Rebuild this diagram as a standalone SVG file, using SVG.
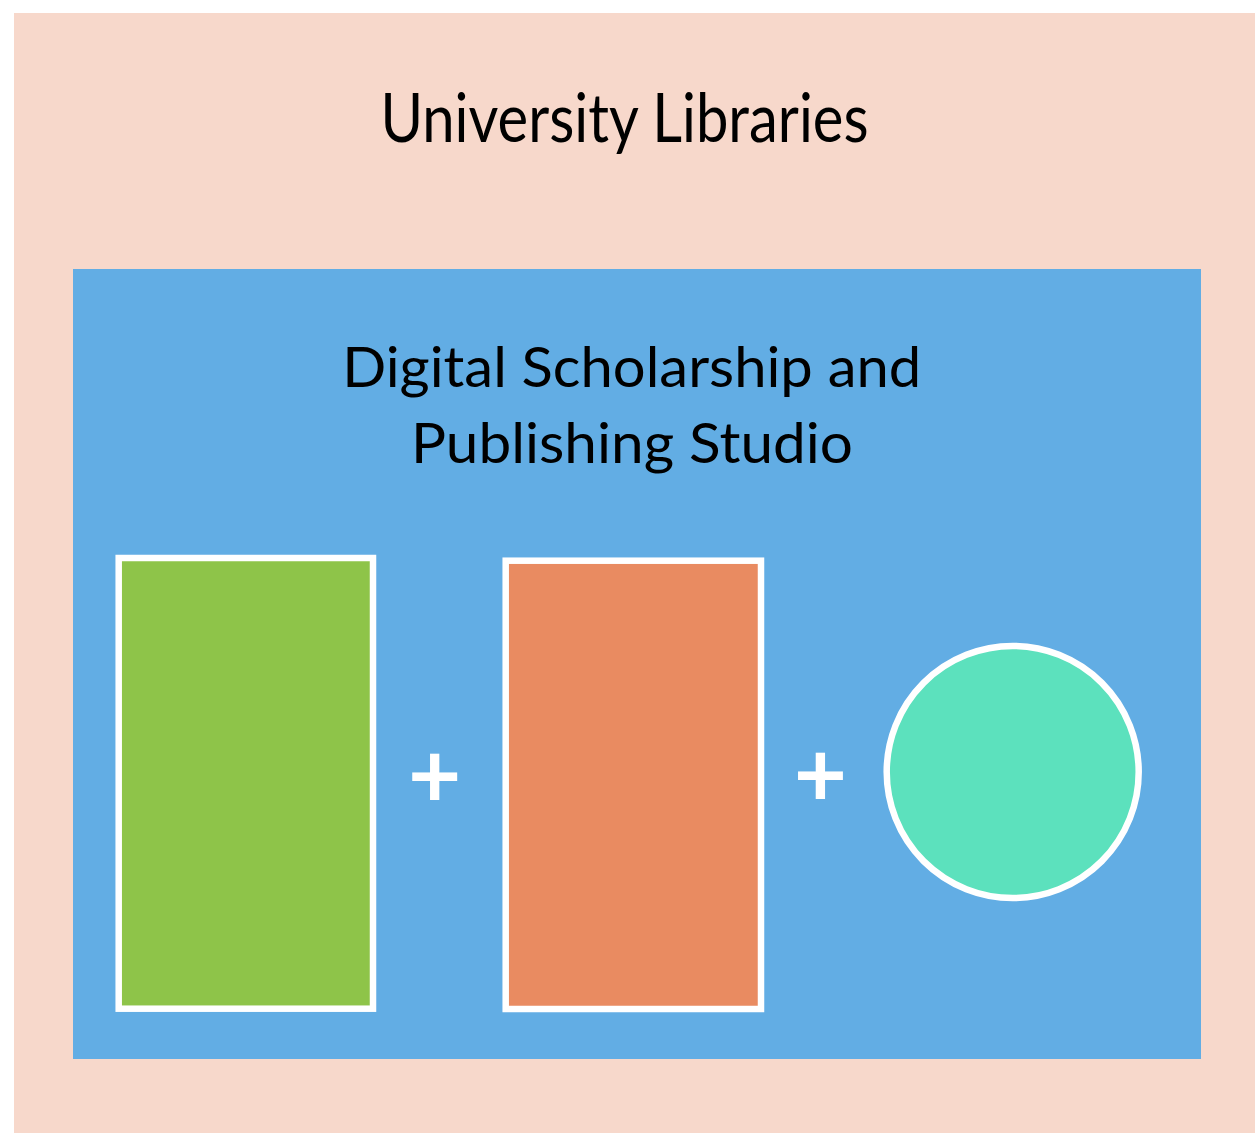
<svg xmlns="http://www.w3.org/2000/svg" width="1255" height="1139" viewBox="0 0 1255 1139">
<style>
.t{font-family:Lato,"Open Sans","Liberation Sans",sans-serif;fill:#000;text-anchor:middle}
.box{stroke:#fff;stroke-width:6.5}
.plus{font-family:Lato,"Liberation Sans",sans-serif;fill:#fff;text-anchor:middle;font-size:92px;font-weight:700}
</style>
<rect width="1255" height="1139" fill="#fff"/>
<g id="university-libraries">
<rect x="14" y="13" width="1241" height="1120" fill="#F7D8CB"/>
<text class="t" x="624.5" y="142" font-size="67" textLength="488" lengthAdjust="spacingAndGlyphs">University Libraries</text>
</g>
<g id="dsps">
<rect x="73" y="269" width="1128" height="790" fill="#62ADE4"/>
<text class="t" x="631.7" y="386.7" font-size="56" textLength="579" lengthAdjust="spacingAndGlyphs">Digital Scholarship and</text>
<text class="t" x="632" y="463.3" font-size="56" textLength="442" lengthAdjust="spacingAndGlyphs">Publishing Studio</text>
</g>
<g id="green-box"><rect class="box" x="118.7" y="558" width="254.3" height="450.7" fill="#8EC449"/></g>
<g id="orange-box"><rect class="box" x="505.7" y="560.7" width="255.3" height="448.3" fill="#E98B61"/></g>
<g id="teal-circle"><circle class="box" cx="1012.7" cy="772" r="126" fill="#5CE1BD"/></g>
<g id="connectors">
<text class="plus" x="434.7" y="808">+</text>
<text class="plus" x="820.5" y="807">+</text>
</g>
</svg>
